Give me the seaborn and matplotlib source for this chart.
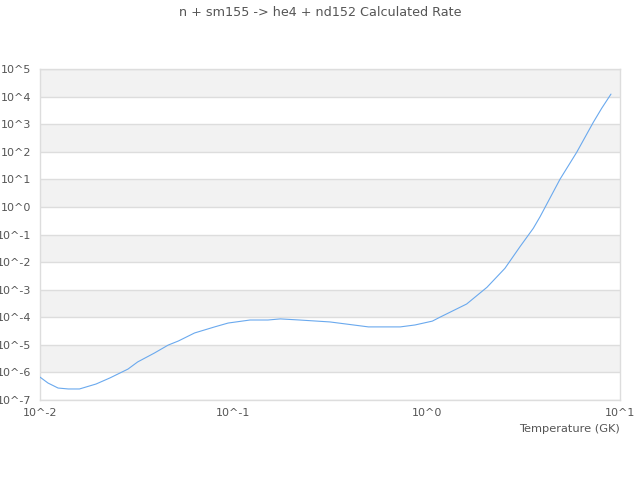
import numpy as np
import pandas as pd
import matplotlib
matplotlib.use("Agg")
import matplotlib.pyplot as plt
import seaborn as sns

# temperature (GK) and rate
temperature = [0.010, 0.011, 0.0124, 0.014, 0.016, 0.0195, 0.023, 0.0285, 0.032,
               0.039, 0.046, 0.052, 0.063, 0.080, 0.094, 0.122, 0.151, 0.175,
               0.22, 0.316, 0.50, 0.73, 0.87, 1.07, 1.17, 1.61, 2.05, 2.54,
               3.04, 3.56, 3.86, 4.90, 5.97, 7.28, 8.04, 8.98]
log_rate = [-6.17, -6.385, -6.566, -6.60, -6.60, -6.42, -6.20, -5.88, -5.62,
            -5.30, -5.01, -4.86, -4.57, -4.35, -4.21, -4.10, -4.10, -4.06,
            -4.10, -4.17, -4.35, -4.35, -4.28, -4.14, -4.00, -3.52, -2.915, -2.226,
            -1.44, -0.776, -0.355, 1.01, 1.98, 3.07, 3.575, 4.09]

x_ticks = [-2, -1, 0, 1]
y_ticks = list(range(-7, 6))

df = pd.DataFrame({"T": temperature, "rate": [10.0 ** v for v in log_rate]})

sns.set_style("white")
plt.rcParams["font.family"] = ["DejaVu Sans"]

fig = plt.figure(figsize=(6.4, 4.8), dpi=100)
ax = fig.add_axes([40 / 640, 80 / 480, 580 / 640, 331 / 480])

# alternating bands
for k in range(-7, 5):
    if k % 2 == 0:
        ax.axhspan(10.0 ** k, 10.0 ** (k + 1), color="#f2f2f2", lw=0, zorder=0)
for k in y_ticks:
    ax.axhline(10.0 ** k, color="#dddddd", lw=1, zorder=1)

sns.lineplot(data=df, x="T", y="rate", ax=ax, color="#6aa9ee", lw=0.8, zorder=3)

ax.set_xscale("log")
ax.set_yscale("log")
ax.set_xlim(1e-2, 1e1)
ax.set_ylim(1e-7, 1e5)
ax.set_xticks([10.0 ** k for k in x_ticks])
ax.set_xticklabels([f"10^{k}" for k in x_ticks])
ax.set_yticks([10.0 ** k for k in y_ticks])
ax.set_yticklabels([f"10^{k}" for k in y_ticks])
ax.minorticks_off()
ax.tick_params(length=0, labelsize=8, labelcolor="#555555", pad=6)
for s in ax.spines.values():
    s.set_color("#dddddd")
    s.set_linewidth(1)

ax.set_xlabel("Temperature (GK)", fontsize=8.2, color="#555555", loc="right")
ax.set_ylabel("")
fig.suptitle("n + sm155 -> he4 + nd152 Calculated Rate", fontsize=9.2,
             color="#555555", y=0.988)

fig.savefig("out.png", dpi=100)
